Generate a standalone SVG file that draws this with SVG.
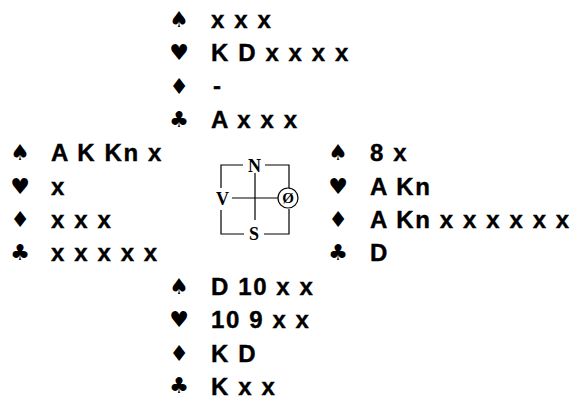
<svg xmlns="http://www.w3.org/2000/svg" width="576" height="399" viewBox="0 0 576 399">
<style>
.s{font-family:"DejaVu Sans",sans-serif;font-size:22px;fill:#000;text-anchor:middle}
.c{font-family:"Liberation Sans",Arial,sans-serif;font-weight:bold;font-size:24px;letter-spacing:1.6px;fill:#000;stroke:#000;stroke-width:0.4}
.d{font-family:"Liberation Serif","Times New Roman",serif;font-weight:bold;font-size:18px;fill:#000;text-anchor:middle}
.o{font-family:"Liberation Serif","Times New Roman",serif;font-weight:bold;font-size:15px;fill:#000;text-anchor:middle}
.ln{stroke:#000;stroke-width:1.2;fill:none}
</style>
<rect width="576" height="399" fill="#fff"/>
<g id="north">
<text class="s" x="179" y="27">♠</text><text class="c" x="211" y="27.6">x x x</text>
<text class="s" x="179" y="60">♥</text><text class="c" x="211" y="61">K D x x x x</text>
<text class="s" x="179" y="94">♦</text><text class="c" x="213" y="94.4">-</text>
<text class="s" x="179" y="127">♣</text><text class="c" x="211" y="127.8">A x x x</text>
</g>
<g id="west">
<text class="s" x="20" y="160">♠</text><text class="c" x="51" y="161.2">A K Kn x</text>
<text class="s" x="20" y="194">♥</text><text class="c" x="51" y="194.6">x</text>
<text class="s" x="20" y="227">♦</text><text class="c" x="51" y="228">x x x</text>
<text class="s" x="20" y="260">♣</text><text class="c" x="51" y="261.4">x x x x x</text>
</g>
<g id="east">
<text class="s" x="338" y="160">♠</text><text class="c" x="370" y="161.2">8 x</text>
<text class="s" x="338" y="194">♥</text><text class="c" x="370" y="194.6">A Kn</text>
<text class="s" x="338" y="227">♦</text><text class="c" x="370" y="228">A Kn x x x x x x</text>
<text class="s" x="338" y="260">♣</text><text class="c" x="370" y="261.4">D</text>
</g>
<g id="south">
<text class="s" x="179" y="294">♠</text><text class="c" x="211" y="294.8">D 10 x x</text>
<text class="s" x="179" y="327">♥</text><text class="c" x="211" y="328.2">10 9 x x</text>
<text class="s" x="179" y="361">♦</text><text class="c" x="211" y="361.6">K D</text>
<text class="s" x="179" y="393">♣</text><text class="c" x="211" y="394.5">K x x</text>
</g>
<g id="compass">
<path class="ln" d="M243 165H221V188M221 210V234H244M264 234H289V209M289 188V165H265"/>
<path class="ln" d="M255 173V220M232 198H278"/>
<circle class="ln" cx="288" cy="198" r="10"/>
<text class="d" x="254.5" y="172">N</text>
<text class="d" x="222.5" y="205">V</text>
<text class="d" x="254" y="240">S</text>
<text class="o" x="288" y="203">Ø</text>
</g>
</svg>
